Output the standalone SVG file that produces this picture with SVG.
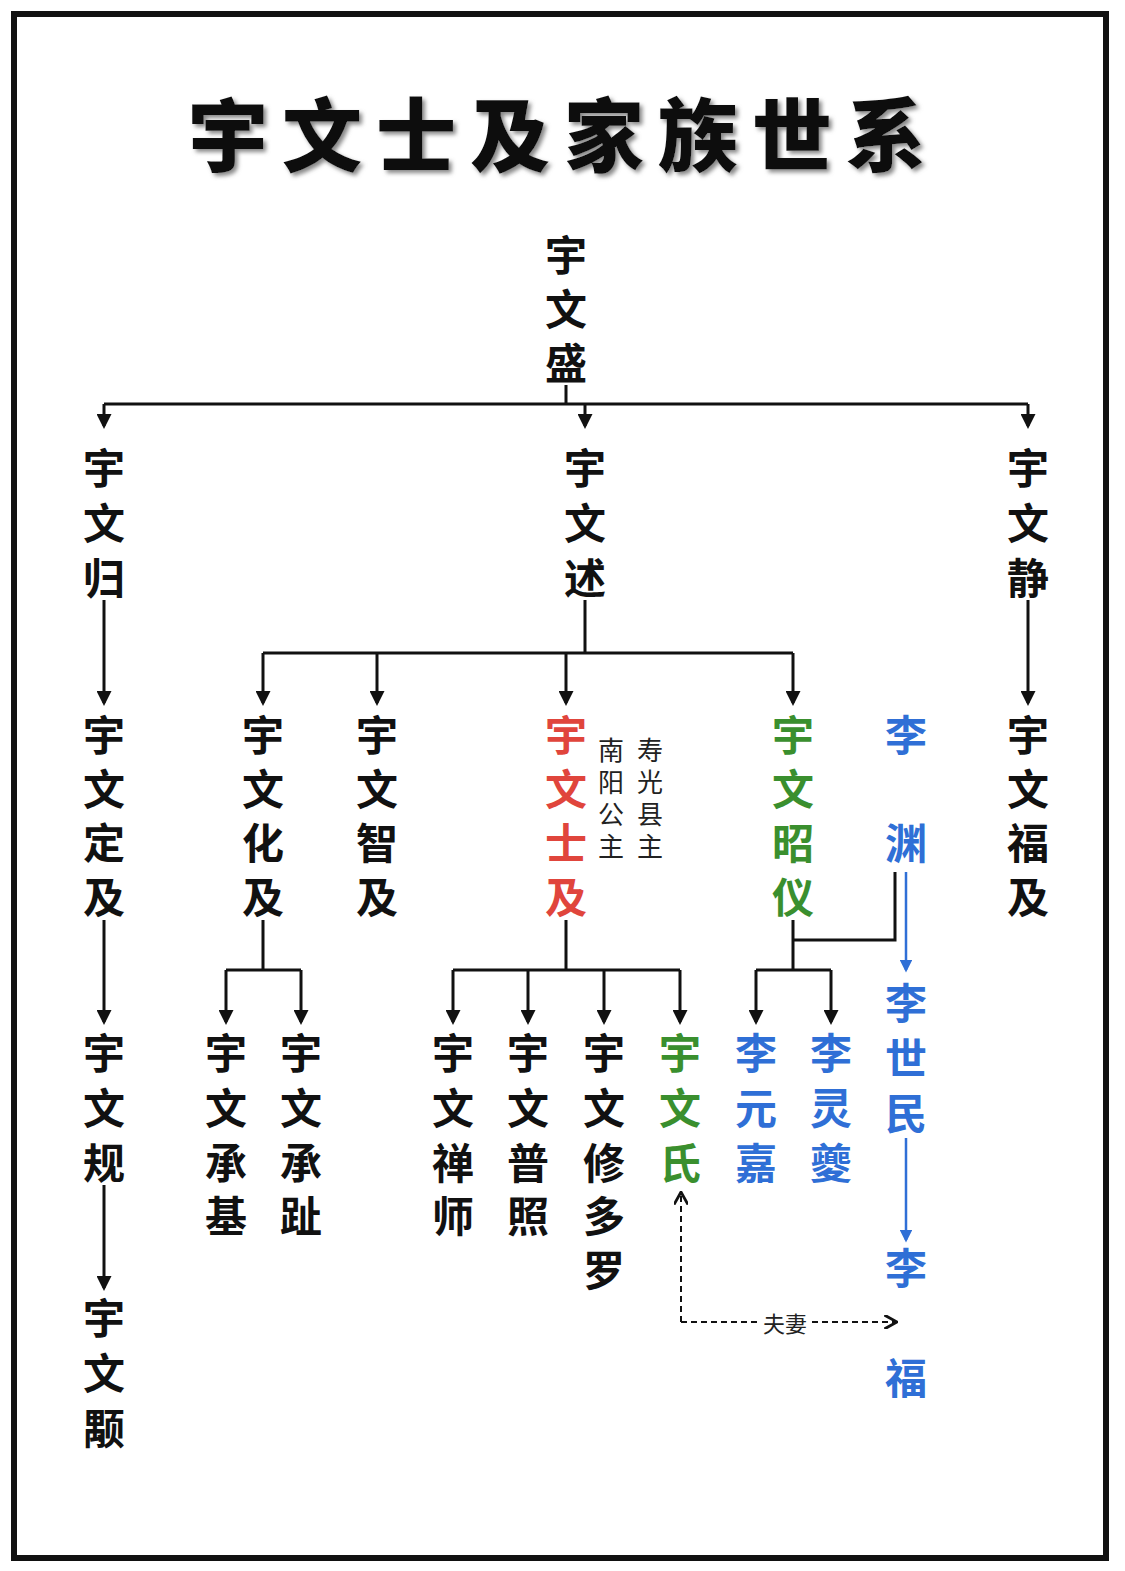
<svg xmlns="http://www.w3.org/2000/svg" width="1125" height="1571" viewBox="0 0 1125 1571">
<style>
.n{font-family:"Noto Sans CJK SC","Noto Sans",sans-serif;font-size:42px;font-weight:700;text-anchor:middle;dominant-baseline:central}
.k{fill:#111}.r{fill:#e0453c}.g{fill:#3a8f2e}.b{fill:#2f6fd6}
.s{font-family:"Noto Sans CJK SC",sans-serif;font-size:26px;fill:#222;text-anchor:middle;dominant-baseline:central}
.l{stroke:#111;stroke-width:3;fill:none}
.bl{stroke:#2f6fd6;stroke-width:2.5;fill:none}
.d{stroke:#111;stroke-width:2;fill:none;stroke-dasharray:6 4}
</style>
<defs>
<marker id="a" viewBox="0 0 10 10" refX="8" refY="5" markerWidth="5" markerHeight="5" orient="auto"><path d="M0,0L10,5L0,10z" fill="#111"/></marker>
<marker id="ab" viewBox="0 0 10 10" refX="8" refY="5" markerWidth="5" markerHeight="5" orient="auto"><path d="M0,0L10,5L0,10z" fill="#2f6fd6"/></marker>
<marker id="ao" viewBox="0 0 10 10" refX="9" refY="5" markerWidth="7" markerHeight="7" orient="auto"><path d="M0,0L9,5L0,10" stroke="#111" stroke-width="2" fill="none"/></marker>
<filter id="sh"><feDropShadow dx="3" dy="3" stdDeviation="2" flood-color="#888"/></filter>
</defs>
<rect width="1125" height="1571" fill="#fff"/>
<rect x="14" y="14" width="1092" height="1544" fill="none" stroke="#111" stroke-width="6"/>
<text x="564" y="130" filter="url(#sh)" style="font-family:'Noto Sans CJK SC',serif;font-size:80px;font-weight:900;letter-spacing:14px;text-anchor:middle;dominant-baseline:central" fill="#111">宇文士及家族世系</text>
<g id="connectors">
<path class="l" d="M566 385V404M104 404H1028"/>
<path class="l" marker-end="url(#a)" d="M104 404V426"/>
<path class="l" marker-end="url(#a)" d="M585 404V426"/>
<path class="l" marker-end="url(#a)" d="M1028 404V426"/>
<path class="l" marker-end="url(#a)" d="M104 600V703"/>
<path class="l" marker-end="url(#a)" d="M1028 600V703"/>
<path class="l" d="M585 600V653M263 653H793"/>
<path class="l" marker-end="url(#a)" d="M263 653V703"/>
<path class="l" marker-end="url(#a)" d="M377 653V703"/>
<path class="l" marker-end="url(#a)" d="M566 653V703"/>
<path class="l" marker-end="url(#a)" d="M793 653V703"/>
<path class="l" marker-end="url(#a)" d="M104 920V1022"/>
<path class="l" marker-end="url(#a)" d="M104 1185V1288"/>
<path class="l" d="M263 920V970M226 970H301"/>
<path class="l" marker-end="url(#a)" d="M226 970V1022"/>
<path class="l" marker-end="url(#a)" d="M301 970V1022"/>
<path class="l" d="M566 920V970M453 970H680"/>
<path class="l" marker-end="url(#a)" d="M453 970V1022"/>
<path class="l" marker-end="url(#a)" d="M528 970V1022"/>
<path class="l" marker-end="url(#a)" d="M604 970V1022"/>
<path class="l" marker-end="url(#a)" d="M680 970V1022"/>
<path class="l" d="M793 920V970M756 970H831M793 940H895V872"/>
<path class="l" marker-end="url(#a)" d="M756 970V1022"/>
<path class="l" marker-end="url(#a)" d="M831 970V1022"/>
<path class="bl" marker-end="url(#ab)" d="M906 872V970"/>
<path class="bl" marker-end="url(#ab)" d="M906 1138V1240"/>
<path class="d" marker-end="url(#ao)" d="M681 1322V1192"/>
<path class="d" d="M681 1322H758"/>
<path class="d" marker-end="url(#ao)" d="M812 1322H897"/>
<text x="785" y="1322" style="font-family:'Noto Sans CJK SC',sans-serif;font-size:22px;text-anchor:middle;dominant-baseline:central" fill="#222">夫妻</text>
</g>
<g id="sheng" class="n k"><text x="566" y="252">宇</text><text x="566" y="306">文</text><text x="566" y="360">盛</text></g>
<g id="gui" class="n k"><text x="104" y="465">宇</text><text x="104" y="520">文</text><text x="104" y="575">归</text></g>
<g id="shu" class="n k"><text x="585" y="465">宇</text><text x="585" y="520">文</text><text x="585" y="575">述</text></g>
<g id="jing" class="n k"><text x="1028" y="465">宇</text><text x="1028" y="520">文</text><text x="1028" y="575">静</text></g>
<g id="dingji" class="n k"><text x="104" y="732">宇</text><text x="104" y="786">文</text><text x="104" y="840">定</text><text x="104" y="894">及</text></g>
<g id="huaji" class="n k"><text x="263" y="732">宇</text><text x="263" y="786">文</text><text x="263" y="840">化</text><text x="263" y="894">及</text></g>
<g id="zhiji" class="n k"><text x="377" y="732">宇</text><text x="377" y="786">文</text><text x="377" y="840">智</text><text x="377" y="894">及</text></g>
<g id="shiji" class="n r"><text x="566" y="732">宇</text><text x="566" y="786">文</text><text x="566" y="840">士</text><text x="566" y="894">及</text></g>
<g id="wives" class="s"><text x="611" y="748">南</text><text x="611" y="780">阳</text><text x="611" y="812">公</text><text x="611" y="844">主</text><text x="650" y="748">寿</text><text x="650" y="780">光</text><text x="650" y="812">县</text><text x="650" y="844">主</text></g>
<g id="zhaoyi" class="n g"><text x="793" y="732">宇</text><text x="793" y="786">文</text><text x="793" y="840">昭</text><text x="793" y="894">仪</text></g>
<g id="liyuan" class="n b"><text x="906" y="732">李</text><text x="906" y="840">渊</text></g>
<g id="fuji" class="n k"><text x="1028" y="732">宇</text><text x="1028" y="786">文</text><text x="1028" y="840">福</text><text x="1028" y="894">及</text></g>
<g id="gui2" class="n k"><text x="104" y="1050">宇</text><text x="104" y="1105">文</text><text x="104" y="1160">规</text></g>
<g id="yong" class="n k"><text x="104" y="1315">宇</text><text x="104" y="1370">文</text><text x="104" y="1425">颙</text></g>
<g id="chengji" class="n k"><text x="226" y="1050">宇</text><text x="226" y="1105">文</text><text x="226" y="1160">承</text><text x="226" y="1213">基</text></g>
<g id="chengzhi" class="n k"><text x="301" y="1050">宇</text><text x="301" y="1105">文</text><text x="301" y="1160">承</text><text x="301" y="1213">趾</text></g>
<g id="chanshi" class="n k"><text x="453" y="1050">宇</text><text x="453" y="1105">文</text><text x="453" y="1160">禅</text><text x="453" y="1213">师</text></g>
<g id="puzhao" class="n k"><text x="528" y="1050">宇</text><text x="528" y="1105">文</text><text x="528" y="1160">普</text><text x="528" y="1213">照</text></g>
<g id="xiuduoluo" class="n k"><text x="604" y="1050">宇</text><text x="604" y="1105">文</text><text x="604" y="1160">修</text><text x="604" y="1213">多</text><text x="604" y="1267">罗</text></g>
<g id="yuwenshi" class="n g"><text x="680" y="1050">宇</text><text x="680" y="1105">文</text><text x="680" y="1160">氏</text></g>
<g id="yuanjia" class="n b"><text x="756" y="1050">李</text><text x="756" y="1105">元</text><text x="756" y="1160">嘉</text></g>
<g id="lingkui" class="n b"><text x="831" y="1050">李</text><text x="831" y="1105">灵</text><text x="831" y="1160">夔</text></g>
<g id="shimin" class="n b"><text x="906" y="1000">李</text><text x="906" y="1055">世</text><text x="906" y="1110">民</text></g>
<g id="lifu" class="n b"><text x="906" y="1265">李</text><text x="906" y="1375">福</text></g>
</svg>
